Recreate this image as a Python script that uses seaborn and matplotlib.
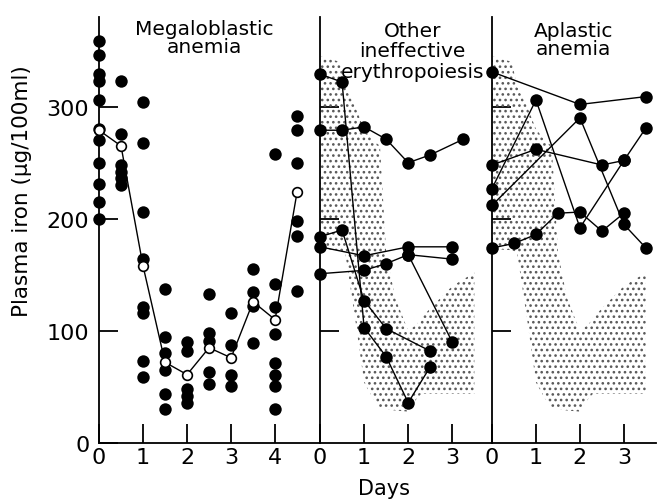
import numpy as np
import pandas as pd
import matplotlib
matplotlib.use('Agg')
import matplotlib.pyplot as plt
import seaborn as sns

# Megaloblastic anemia: single values read per sampling day, plus the mean curve
mega_days = [0, 0.5, 1, 1.5, 2, 2.5, 3, 3.5, 4, 4.5]
mega_values = [
    [359, 346, 329, 323, 306, 280, 270, 250, 231, 215, 200],
    [323, 276, 248, 242, 236, 230],
    [304, 268, 206, 164, 121, 116, 73, 59],
    [137, 95, 80, 65, 44, 30],
    [90, 82, 48, 42, 36],
    [133, 98, 91, 63, 53],
    [116, 87, 61, 51],
    [155, 135, 122, 89],
    [258, 142, 121, 97, 71, 61, 51, 30],
    [292, 279, 250, 198, 185, 136],
]
mega_mean = [279, 265, 158, 72, 61, 85, 76, 126, 110, 224]

# Other ineffective erythropoiesis, one curve per patient
other_a_days = [0, 0.5, 1, 1.5, 2, 2.5, 3.25]
other_a_iron = [279, 279, 282, 271, 250, 257, 271]
other_b_days = [0, 0.5, 1, 1.5, 2, 2.5]
other_b_iron = [329, 322, 103, 77, 36, 68]
other_c_days = [0, 0.5, 1, 1.5, 2.5]
other_c_iron = [184, 190, 127, 102, 82]
other_d_days = [0, 1, 2, 3]
other_d_iron = [175, 167, 175, 175]
other_e_days = [0, 1, 1.5, 2, 3]
other_e_iron = [151, 154, 160, 168, 90]
other_f_days = [2, 3]
other_f_iron = [168, 164]

# Aplastic anemia, one curve per patient
aplastic_a_days = [0, 2, 3.5]
aplastic_a_iron = [331, 302, 309]
aplastic_b_days = [0, 1, 2, 3]
aplastic_b_iron = [227, 306, 192, 252]
aplastic_c_days = [0, 1, 2.5, 3, 3.5]
aplastic_c_iron = [248, 262, 248, 252, 281]
aplastic_d_days = [0, 2, 3, 3.5]
aplastic_d_iron = [212, 290, 195, 174]
aplastic_e_days = [0, 0.5, 1, 1.5, 2, 2.5, 3]
aplastic_e_iron = [174, 178, 186, 205, 206, 189, 205]

# stippled normal range
band_days = [0, 0.45, 0.57, 0.8, 1.0, 1.2, 1.36, 1.5, 1.7, 2.0, 2.2, 2.3, 2.7, 3.0, 3.5]
band_upper = [345, 340, 318, 300, 280, 270, 265, 170, 130, 100, 106, 112, 128, 140, 152]
band_lower = [173, 172, 170, 110, 54, 40, 31, 30, 29, 28, 40, 44, 44, 44, 44]


def long_form(pairs):
    frames = [pd.DataFrame({'day': d, 'iron': v, 'patient': i}) for i, (d, v) in enumerate(pairs)]
    return pd.concat(frames, ignore_index=True)


mega_df = pd.DataFrame({
    'day': np.repeat(mega_days, [len(v) for v in mega_values]),
    'iron': np.concatenate(mega_values),
})
other_df = long_form([(other_a_days, other_a_iron), (other_b_days, other_b_iron),
                      (other_c_days, other_c_iron), (other_d_days, other_d_iron),
                      (other_e_days, other_e_iron), (other_f_days, other_f_iron)])
aplastic_df = long_form([(aplastic_a_days, aplastic_a_iron), (aplastic_b_days, aplastic_b_iron),
                         (aplastic_c_days, aplastic_c_iron), (aplastic_d_days, aplastic_d_iron),
                         (aplastic_e_days, aplastic_e_iron)])

sns.set_style('ticks')
plt.rcParams['font.family'] = ['DejaVu Sans']
plt.rcParams['text.color'] = 'black'
plt.rcParams['xtick.color'] = 'black'
plt.rcParams['ytick.color'] = 'black'
plt.rcParams['axes.edgecolor'] = 'black'
plt.rcParams['hatch.linewidth'] = 1.1

fig = plt.figure(figsize=(6.58, 5.02), dpi=100)
ax1 = fig.add_axes([99 / 658, 58 / 502, 221 / 658, 426 / 502])
ax2 = fig.add_axes([320 / 658, 58 / 502, 172 / 658, 426 / 502])
ax3 = fig.add_axes([492 / 658, 58 / 502, 164 / 658, 426 / 502])

# panel 1
sns.scatterplot(data=mega_df, x='day', y='iron', ax=ax1, color='black', s=80,
                linewidth=0, clip_on=False, zorder=3)
sns.lineplot(x=mega_days, y=mega_mean, ax=ax1, color='black', lw=1, marker='o',
             markersize=7, markerfacecolor='white', markeredgecolor='black',
             markeredgewidth=1.2, zorder=4, clip_on=False)

# panels 2 and 3
for ax, df in ((ax2, other_df), (ax3, aplastic_df)):
    ax.fill_between(band_days, band_lower, band_upper, facecolor='none',
                    edgecolor='0.35', hatch='...', linewidth=0, zorder=1)
    sns.lineplot(data=df, x='day', y='iron', units='patient', estimator=None,
                 sort=False, ax=ax, color='black', lw=1, marker='o', markersize=9,
                 markeredgewidth=0, zorder=3, clip_on=False)

for ax, xmax, nt in ((ax1, 5.02, 5), (ax2, 3.9, 4), (ax3, 3.73, 4)):
    ax.set_xlim(0, xmax)
    ax.set_ylim(0, 380)
    ax.set_xticks(range(nt))
    ax.set_xlabel('')
    ax.set_ylabel('')
    for side in ('top', 'right'):
        ax.spines[side].set_visible(False)
    for side in ('left', 'bottom'):
        ax.spines[side].set_linewidth(1.3)
    ax.tick_params(direction='in', length=14, width=1.3, labelsize=16, pad=3)
    ax.tick_params(axis='y', pad=7)
    ax.patch.set_alpha(0)

ax1.set_yticks([0, 100, 200, 300])
for ax in (ax2, ax3):
    ax.set_yticks([100, 200, 300])
    ax.tick_params(labelleft=False)

ax1.text(2.4, 362, 'Megaloblastic\nanemia', ha='center', va='center', fontsize=14.5, linespacing=0.95)
ax2.text(2.1, 350, 'Other\nineffective\nerythropoiesis', ha='center', va='center',
         fontsize=14.5, linespacing=1.1, clip_on=False, zorder=5)
ax3.text(1.85, 360, 'Aplastic\nanemia', ha='center', va='center', fontsize=14.5, linespacing=0.95)

fig.text(0.033, 0.62, 'Plasma iron (μg/100ml)', rotation=90, ha='center', va='center', fontsize=15.5)
fig.text(384 / 658, 0.025, 'Days', ha='center', va='center', fontsize=15)

fig.savefig('out.png', dpi=100)
